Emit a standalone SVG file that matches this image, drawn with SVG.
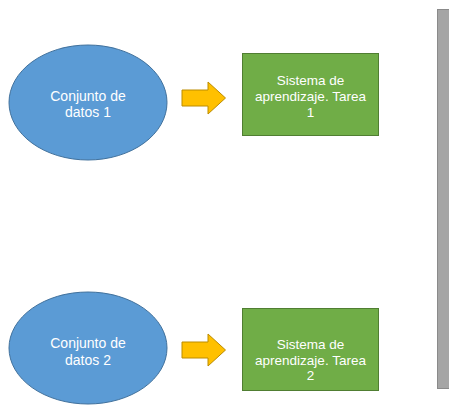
<svg xmlns="http://www.w3.org/2000/svg" width="449" height="405" viewBox="0 0 449 405">
<style>
.data{fill:#5B9BD5;stroke:#41719C;stroke-width:1}
.task{fill:#70AD47;stroke:#507E32;stroke-width:1}
.arrow{fill:#FFC000;stroke:#BC8C00;stroke-width:1}
.side{fill:#A5A5A5;stroke:#8A8A8A;stroke-width:1}
text{font-family:"Liberation Sans",Arial,sans-serif;fill:#FFFFFF;text-anchor:middle}
.t1{font-size:14px}
.t2{font-size:13.5px}
</style>
<rect width="449" height="405" fill="#FFFFFF"/>
<g id="side-panel"><rect class="side" x="437.5" y="9.5" width="14" height="379"/></g>
<g id="data1">
<ellipse class="data" cx="88" cy="102.5" rx="79" ry="57.5"/>
<text class="t1" x="88" y="101">Conjunto de</text>
<text class="t1" x="88" y="117">datos 1</text>
</g>
<g id="task1">
<rect class="task" x="242.5" y="53.5" width="136" height="82"/>
<text class="t2" x="310.5" y="85">Sistema de</text>
<text class="t2" x="310.5" y="101">aprendizaje. Tarea</text>
<text class="t2" x="310.5" y="117">1</text>
</g>
<g id="data2">
<ellipse class="data" cx="88" cy="348" rx="79" ry="56"/>
<text class="t1" x="88" y="348">Conjunto de</text>
<text class="t1" x="88" y="365">datos 2</text>
</g>
<g id="task2">
<rect class="task" x="242.5" y="308.5" width="136" height="82"/>
<text class="t2" x="310.5" y="349">Sistema de</text>
<text class="t2" x="310.5" y="365">aprendizaje. Tarea</text>
<text class="t2" x="310.5" y="380">2</text>
</g>
<g id="connectors">
<path class="arrow" d="M182,90 H208 V82 L225.5,98 L208,114 V106 H182 Z"/>
<path class="arrow" d="M182,342 H208 V334 L225.5,350 L208,366 V358 H182 Z"/>
</g>
</svg>
